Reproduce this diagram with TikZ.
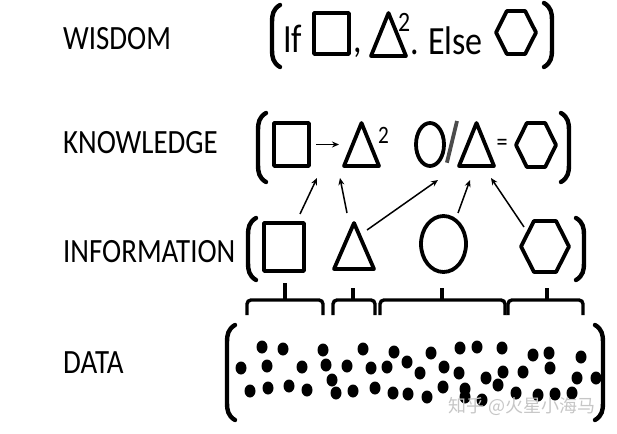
\documentclass[tikz,border=0pt]{standalone}
\usepackage{fontspec}
\usepackage{graphicx}
\setmainfont{Carlito}
\newfontfamily\cjkfont{Noto Sans CJK SC}
\usepackage{tikz}
\usetikzlibrary{arrows.meta, positioning, calc, shapes.geometric}

\newcommand{\narrow}[1]{\scalebox{0.85}[1]{#1}}
% tall round brackets: x, top, bottom
\newcommand{\lbrak}[3]{\draw[brak] (#1+8,#2) .. controls (#1+1,#2+4) and (#1,#2+10) .. (#1,#2+17) -- (#1,#3-17) .. controls (#1,#3-10) and (#1+1,#3-4) .. (#1+8,#3);}
\newcommand{\rbrak}[3]{\draw[brak] (#1-8,#2) .. controls (#1-1,#2+4) and (#1,#2+10) .. (#1,#2+17) -- (#1,#3-17) .. controls (#1,#3-10) and (#1-1,#3-4) .. (#1-8,#3);}
% grouping brace under the information row: x1, xmid, x2, tick top
\newcommand{\grpbrace}[4]{\draw[grp] (#1,315) -- (#1,300) -- (#3,300) -- (#3,315); \draw[grp] (#2,300) -- (#2,#4);}

\begin{document}
\begin{tikzpicture}[
  x=1pt, y=-1pt,
  lbl/.style   = {anchor=base west, inner sep=0pt, font=\fontsize{34}{34}\selectfont},
  txt/.style   = {anchor=base west, inner sep=0pt, font=\fontsize{40}{40}\selectfont},
  shp/.style   = {draw, line width=3.8pt, line join=round, inner sep=0pt, outer sep=0pt},
  slot/.style  = {inner sep=0pt, outer sep=0pt},
  brak/.style  = {line width=4.4pt, line cap=round},
  grp/.style   = {line width=3.4pt, rounded corners=4pt},
  arr/.style   = {-{Stealth[length=7pt, width=6pt]}, line width=1.5pt},
]
\useasboundingbox (0,0) rectangle (617,433);

% ── Row labels ───────────────────────────────────────────────────────────────
\node[lbl] (lwis) at (63,50)  {\narrow{WISDOM}};
\node[lbl] (lkno) at (63,153) {\narrow{KNOWLEDGE}};
\node[lbl] (linf) at (63,262) {\narrow{INFORMATION}};
\node[lbl] (ldat) at (63,373) {\narrow{DATA}};

% ── Wisdom ───────────────────────────────────────────────────────────────────
\lbrak{272}{5}{67}
\rbrak{552}{3}{67}
\node[txt] (wif) at (283,53) {\narrow{If}};
\node[shp, minimum width=35, minimum height=41] (wsq) at (331.5,33.5) {};
\node[txt] (wcom) at (353,53) {\narrow{,}};
\node[slot, minimum width=35, minimum height=43] (wtri) at (388.5,34.5) {};
\node[anchor=base west, inner sep=0pt, font=\fontsize{28}{28}\selectfont] (wsup) at (398,32) {\narrow{2}};
\node[txt] (wdot) at (410,55) {\narrow{.}};
\node[txt] (welse) at (428,55) {\narrow{Else}};
\node[slot, minimum width=40, minimum height=43] (whex) at (516,32.5) {};

% ── Knowledge ────────────────────────────────────────────────────────────────
\lbrak{258}{113}{182}
\rbrak{569}{113}{182}
\node[shp, minimum width=35, minimum height=43] (ksq) at (291.5,144.5) {};
\node[slot, minimum width=35, minimum height=43] (ktri) at (361.5,144.5) {};
\node[anchor=base west, inner sep=0pt, font=\fontsize{25}{25}\selectfont] (ksup) at (378,143) {\narrow{2}};
\node[shp, ellipse, minimum width=28, minimum height=43] (kcir) at (430,144.5) {};
\node[slot, minimum width=35, minimum height=43] (ktrib) at (476.5,144.5) {};
\node[inner sep=0pt, font=\fontsize{26}{26}\selectfont] (keq) at (502,145) {\narrow{=}};
\node[slot, minimum width=40, minimum height=44] (khex) at (536,145) {};
\draw[line width=3.8pt, draw=black!70] (kcir.south east) ++(7,3) coordinate (sl1);
\draw[line width=3.8pt, draw=black!70] (sl1) -- ([shift={(-2,-2)}]ktrib.north west);
\draw[arr, shorten <=7pt, shorten >=5pt] (ksq.east) -- (ktri.west);

% ── Information ──────────────────────────────────────────────────────────────
\lbrak{248}{218}{280}
\rbrak{584}{218}{280}
\node[shp, minimum width=40, minimum height=48] (isq) at (284,247) {};
\node[slot, minimum width=40, minimum height=46] (itri) at (354,246) {};
\node[shp, ellipse, minimum width=45, minimum height=56] (icir) at (443.5,244) {};
\node[slot, minimum width=48, minimum height=51] (ihex) at (545,246.5) {};

% triangles and hexagons
\foreach \t in {wtri, ktri, ktrib, itri}
  \draw[shp] (\t.south west) -- (\t.north) -- (\t.south east) -- cycle;
\foreach \h in {whex, khex, ihex}
  \draw[shp] (\h.west) -- ($(\h.north west)!0.27!(\h.north east)$) -- ($(\h.north west)!0.73!(\h.north east)$)
    -- (\h.east) -- ($(\h.south west)!0.73!(\h.south east)$) -- ($(\h.south west)!0.27!(\h.south east)$) -- cycle;

% information -> knowledge
\draw[arr] ([shift={(16,-9)}]isq.north)       -- ([shift={(8,12)}]ksq.south east);
\draw[arr] ([shift={(-7,-10)}]itri.north)     -- ([shift={(-4,12)}]ktri.south west);
\draw[arr] ([shift={(13,7)}]itri.north)       -- ([shift={(8,14)}]kcir.south);
\draw[arr] ([shift={(14.5,-3)}]icir.north)    -- ([shift={(-6.5,14)}]ktrib.south);
\draw[arr] ([shift={(3,6)}]ihex.north west)   -- ([shift={(-3,12)}]ktrib.south east);

% ── Grouping braces ──────────────────────────────────────────────────────────
\grpbrace{247}{285}{323}{283}
\grpbrace{333}{353}{375}{288}
\grpbrace{380}{442}{505}{288}
\grpbrace{508}{547}{583}{288}

% ── Data ─────────────────────────────────────────────────────────────────────
\lbrak{227}{325}{420}
\rbrak{603}{325}{420}
\foreach \px/\py in {262/347, 283/349, 323/350, 363/349, 394/352, 431/353, 460/348, 477/347, 502/348,
    533/355, 549/353, 581/357,
    241/368, 267/366, 302/367, 326/365, 347/366, 371/368, 387/367, 407/362, 420/373, 444/367,
    459/373, 486/378, 503/372, 523/372, 550/368, 577/378, 596/378, 332/380,
    250/391, 268/388, 289/386, 307/390, 336/393, 353/391, 375/388, 393/393, 408/394, 427/397,
    443/387, 465/389, 465/397, 498/385, 516/393, 538/395, 555/394, 572/393, 482/400}
  \fill (\px,\py) ellipse [x radius=5.5, y radius=6.5];

\node[anchor=base west, inner sep=0pt, text=gray!45, font=\cjkfont\fontsize{18}{18}\selectfont] (wmark) at (448,412) {知乎 @火星小海马};
\end{tikzpicture}
\end{document}
